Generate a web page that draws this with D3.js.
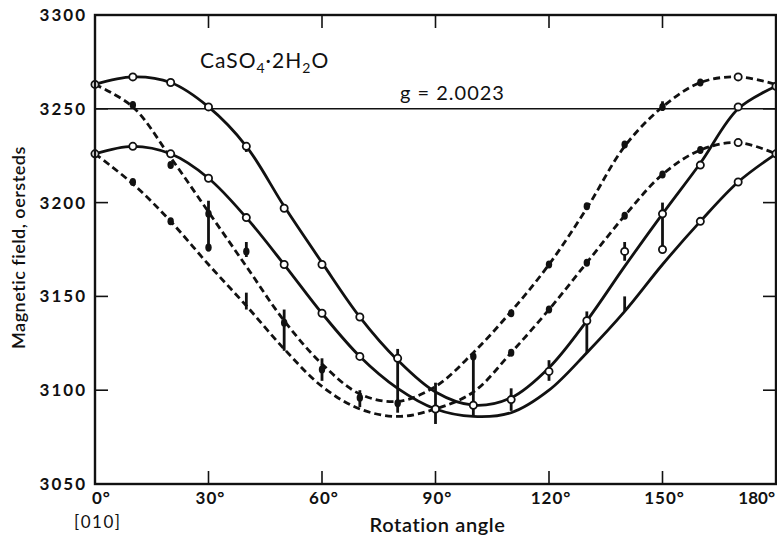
<!DOCTYPE html>
<html>
<head>
<meta charset="utf-8">
<script src="https://cdnjs.cloudflare.com/ajax/libs/d3/7.8.5/d3.min.js"></script>
<style>
  body { margin: 0; background: #fff; }
  svg text { font-family: Lato, "DejaVu Sans", sans-serif; fill: #111; }
</style>
</head>
<body>
<script>

const angles = [0, 10, 20, 30, 40, 50, 60, 70, 80, 90, 100, 110, 120, 130, 140, 150, 160, 170, 180];

// Fitted curves, magnetic field in oersteds.
const solidUpper  = [3263, 3267, 3264, 3251, 3230, 3198, 3168, 3139, 3116, 3099, 3092, 3096, 3112, 3137, 3166, 3194, 3221, 3250, 3262];
const solidLower  = [3226, 3230, 3226, 3213, 3192, 3167, 3141, 3118, 3101, 3090, 3086, 3088, 3100, 3120, 3142, 3167, 3190, 3211, 3226];
const dashedUpper = [3263, 3251, 3224, 3195, 3166, 3137, 3114, 3098, 3094, 3102, 3120, 3142, 3167, 3197, 3230, 3251, 3264, 3267, 3263];
const dashedLower = [3226, 3210, 3190, 3167, 3145, 3122, 3102, 3090, 3086, 3090, 3099, 3120, 3143, 3168, 3193, 3215, 3228, 3232, 3226];

// Measured points: [angle, field]
const openPoints = [
  [0, 3263], [10, 3267], [20, 3264], [30, 3251], [40, 3230], [50, 3197], [60, 3167],
  [70, 3139], [80, 3117], [100, 3092], [110, 3095], [120, 3110], [130, 3137], [140, 3174],
  [150, 3194], [150, 3175], [160, 3220], [170, 3251], [180, 3262],
  [0, 3226], [10, 3230], [20, 3226], [30, 3213], [40, 3192], [50, 3167], [60, 3141],
  [70, 3118], [90, 3090], [160, 3190], [170, 3211], [180, 3226],
  [170, 3267], [170, 3232]
];
const filledPoints = [
  [10, 3252], [10, 3211], [20, 3220], [20, 3190], [30, 3194], [30, 3176], [40, 3174],
  [50, 3136], [60, 3111], [70, 3096], [80, 3093], [100, 3118], [110, 3141], [110, 3120],
  [120, 3167], [120, 3143], [130, 3198], [130, 3168], [140, 3231], [140, 3193],
  [150, 3251], [150, 3215], [160, 3264], [160, 3228]
];

// Spread of the readings: [angle, low, high]
const errorBars = [
  [30, 3174, 3201], [40, 3227, 3232], [40, 3171, 3179], [40, 3143, 3152], [50, 3121, 3143],
  [60, 3105, 3117], [70, 3091, 3100], [80, 3088, 3122], [90, 3082, 3104], [100, 3086, 3120],
  [110, 3089, 3101], [120, 3105, 3116], [130, 3120, 3142], [140, 3169, 3179],
  [140, 3142, 3150], [150, 3176, 3200], [150, 3249, 3254]
];

const xTicks = [0, 30, 60, 90, 120, 150, 180];
const xTickLabels = ["0°", "30°", "60°", "90°", "120°", "150°", "180°"];
const yTicks = [3050, 3100, 3150, 3200, 3250, 3300];
const gLine = 3250;

const width = 777;
const height = 540;

let svg = d3.select("body")
    .append("svg")
    .attr("width", width)
    .attr("height", height);

let x = d3.scaleLinear().domain([0, 180]).range([95, 776]);
let y = d3.scaleLinear().domain([3050, 3300]).range([484, 15]);

// Curves
function series(values) {
  return angles.map((a, i) => [a, values[i]]);
}

let line = d3.line()
    .x(d => x(d[0]))
    .y(d => y(d[1]))
    .curve(d3.curveCatmullRom.alpha(0.5));

const curves = [
  { values: solidUpper, dash: null },
  { values: solidLower, dash: null },
  { values: dashedUpper, dash: "7,4" },
  { values: dashedLower, dash: "7,4" }
];

svg.selectAll(".curve")
    .data(curves)
    .enter()
    .append("path")
    .attr("class", "curve")
    .attr("d", d => line(series(d.values)))
    .attr("fill", "none")
    .attr("stroke", "#111")
    .attr("stroke-width", 2.8)
    .attr("stroke-dasharray", d => d.dash);

// g = 2.0023 reference line
svg.append("line")
    .attr("x1", x(0)).attr("x2", x(180))
    .attr("y1", y(gLine)).attr("y2", y(gLine))
    .attr("stroke", "#111")
    .attr("stroke-width", 1.6);

// Error bars
svg.selectAll(".bar")
    .data(errorBars)
    .enter()
    .append("line")
    .attr("class", "bar")
    .attr("x1", d => x(d[0])).attr("x2", d => x(d[0]))
    .attr("y1", d => y(d[1])).attr("y2", d => y(d[2]))
    .attr("stroke", "#111")
    .attr("stroke-width", 2.8);

// Filled points (dashed curves)
svg.selectAll(".filled")
    .data(filledPoints)
    .enter()
    .append("ellipse")
    .attr("class", "filled")
    .attr("cx", d => x(d[0]))
    .attr("cy", d => y(d[1]))
    .attr("rx", 3.2)
    .attr("ry", 4)
    .attr("fill", "#111");

// Open points (solid curves)
svg.selectAll(".open")
    .data(openPoints)
    .enter()
    .append("circle")
    .attr("class", "open")
    .attr("cx", d => x(d[0]))
    .attr("cy", d => y(d[1]))
    .attr("r", 3.6)
    .attr("fill", "#fff")
    .attr("stroke", "#111")
    .attr("stroke-width", 1.8);

// Frame
svg.append("rect")
    .attr("x", x(0)).attr("y", y(3300))
    .attr("width", x(180) - x(0))
    .attr("height", y(3050) - y(3300))
    .attr("fill", "none")
    .attr("stroke", "#111")
    .attr("stroke-width", 2.4);

// Inward ticks on all four sides
const tickLen = 13;
let innerX = xTicks.slice(1, -1);
let innerY = yTicks.slice(1, -1);

svg.selectAll(".xtick-b").data(innerX).enter().append("line")
    .attr("x1", d => x(d)).attr("x2", d => x(d))
    .attr("y1", y(3050)).attr("y2", y(3050) - tickLen)
    .attr("stroke", "#111").attr("stroke-width", 1.6);
svg.selectAll(".xtick-t").data(innerX).enter().append("line")
    .attr("x1", d => x(d)).attr("x2", d => x(d))
    .attr("y1", y(3300)).attr("y2", y(3300) + tickLen)
    .attr("stroke", "#111").attr("stroke-width", 1.6);
svg.selectAll(".ytick-l").data(innerY).enter().append("line")
    .attr("x1", x(0)).attr("x2", x(0) + tickLen)
    .attr("y1", d => y(d)).attr("y2", d => y(d))
    .attr("stroke", "#111").attr("stroke-width", 1.6);
svg.selectAll(".ytick-r").data(innerY).enter().append("line")
    .attr("x1", x(180)).attr("x2", x(180) - tickLen)
    .attr("y1", d => y(d)).attr("y2", d => y(d))
    .attr("stroke", "#111").attr("stroke-width", 1.6);

// Tick labels
svg.selectAll(".ylabel")
    .data(yTicks)
    .enter()
    .append("text")
    .attr("x", 87)
    .attr("y", d => y(d) + 6)
    .attr("text-anchor", "end")
    .attr("font-size", 17)
    .attr("font-weight", 700)
    .attr("letter-spacing", 2)
    .text(d => d);

// first and last labels are pushed inside the picture edges
svg.selectAll(".xlabel")
    .data(xTicks)
    .enter()
    .append("text")
    .attr("x", (d, i) => i === 0 ? 92 : (i === xTicks.length - 1 ? 775 : x(d) + 2))
    .attr("y", 504)
    .attr("text-anchor", (d, i) => i === 0 ? "start" : (i === xTicks.length - 1 ? "end" : "middle"))
    .attr("font-size", 17)
    .attr("font-weight", 700)
    .attr("letter-spacing", (d, i) => i === xTicks.length - 1 ? 0 : 1)
    .text((d, i) => xTickLabels[i]);

svg.append("text")
    .attr("x", 74).attr("y", 528)
    .attr("font-size", 17)
    .attr("letter-spacing", 1.5)
    .text("[010]");

// Axis titles
svg.append("text")
    .attr("x", x(90) + 2)
    .attr("y", 532)
    .attr("text-anchor", "middle")
    .attr("font-size", 20)
    .attr("font-weight", 600)
    .attr("letter-spacing", 0.6)
    .text("Rotation angle");

svg.append("text")
    .attr("transform", "translate(25," + y(3176) + ") rotate(-90)")
    .attr("text-anchor", "middle")
    .attr("font-size", 18)
    .attr("font-weight", 600)
    .attr("letter-spacing", 0.5)
    .text("Magnetic field, oersteds");

// Annotations
let formula = svg.append("text")
    .attr("x", 200)
    .attr("y", 68)
    .attr("font-size", 21)
    .attr("letter-spacing", 1);
formula.append("tspan").text("CaSO");
formula.append("tspan").attr("dy", 5).attr("font-size", 14).text("4");
formula.append("tspan").attr("dy", -5).text("·2H");
formula.append("tspan").attr("dy", 5).attr("font-size", 14).text("2");
formula.append("tspan").attr("dy", -5).text("O");

svg.append("text")
    .attr("x", 400)
    .attr("y", 100)
    .attr("font-size", 20)
    .attr("letter-spacing", 1)
    .text("g = 2.0023");

</script>
</body>
</html>
